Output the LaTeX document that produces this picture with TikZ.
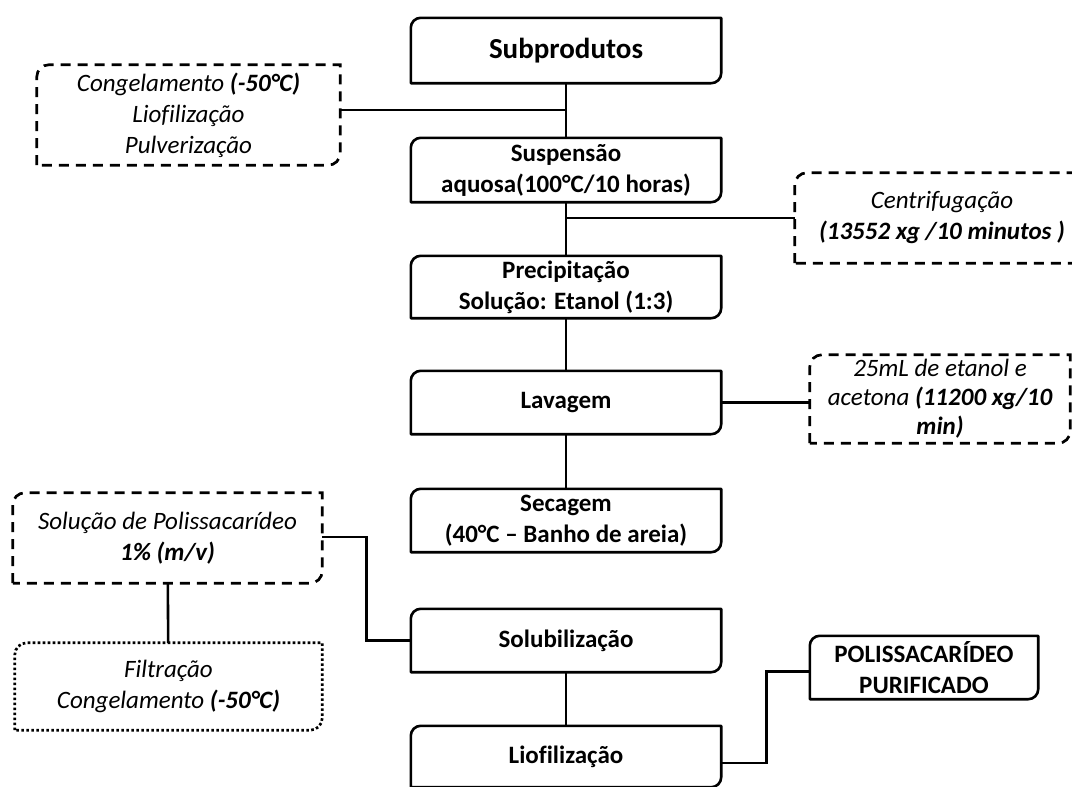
\documentclass[tikz,border=0pt]{standalone}
\usepackage{fontspec}
\setmainfont{Carlito}[Ligatures=NoCommon]
\newcommand\diagoutline[3][10pt]{%
  \draw[#3] (#2.south west) -- ([yshift=-#1]#2.north west)
    arc[start angle=180,end angle=90,radius=#1] -- (#2.north east)
    -- ([yshift=#1]#2.south east)
    arc[start angle=0,end angle=-90,radius=#1] -- cycle;}
\tikzset{
  txt/.style={inner sep=0pt, align=center, font=\fontsize{25}{31}\selectfont},
  mainbox/.style={txt, font=\fontsize{25}{31}\selectfont\bfseries},
  notebox/.style={txt, font=\fontsize{25}{31}\selectfont\itshape},
  solidline/.style={line width=2.6pt, line join=round},
  dashline/.style={line width=2.7pt, dash pattern=on 10pt off 7pt},
  dotline/.style={line width=2.7pt, dash pattern=on 2.6pt off 2.4pt},
  conn/.style={line width=2.6pt}
}
\begin{document}
\begin{tikzpicture}[x=1pt,y=-1pt]
\clip (0,0) rectangle (1072,787);
\fill[white] (0,0) rectangle (1072,787);

% main column
\node[mainbox, minimum width=310pt, minimum height=65pt, font=\fontsize{29}{34}\selectfont\bfseries] (sub) at (566,50.5) {Subprodutos};
\node[mainbox, minimum width=310pt, minimum height=64pt] (susp) at (566,170) {Suspensão\\aquosa(100°C/10 horas)};
\node[mainbox, minimum width=310pt, minimum height=62pt] (prec) at (566,287) {Precipitação\\Solução: Etanol (1:3)};
\node[mainbox, minimum width=310pt, minimum height=63pt] (lav) at (566,402.5) {Lavagem};
\node[mainbox, minimum width=310pt, minimum height=63pt] (sec) at (566,520.5) {Secagem\\(40°C – Banho de areia)};
\node[mainbox, minimum width=310pt, minimum height=63pt] (solu) at (566,640.5) {Solubilização};
\node[mainbox, minimum width=310pt, minimum height=61pt] (liof) at (566,756.5) {Liofilização};
\node[mainbox, minimum width=228pt, minimum height=63pt] (pol) at (924,667.5) {POLISSACARÍDEO\\PURIFICADO};

% side notes
\node[notebox, minimum width=303pt, minimum height=100pt] (cong) at (188.5,115) {Congelamento \textbf{(-50°C)}\\Liofilização\\Pulverização};
\node[notebox, minimum width=294pt, minimum height=90pt] (centr) at (942,218) {Centrifugação\\\textbf{(13552 xg /10 minutos )}};
\node[notebox, minimum width=260pt, minimum height=88pt, font=\fontsize{25}{29}\selectfont\itshape] (etan) at (940,399) {25mL de etanol e\\acetona \textbf{(11200 xg/10}\\\textbf{min)}};
\node[notebox, minimum width=309pt, minimum height=90pt] (sol) at (167.5,538) {Solução de Polissacarídeo\\\textbf{1\% (m/v)}};
\node[notebox, minimum width=307pt, minimum height=87pt] (filt) at (168.5,686.5) {Filtração\\Congelamento \textbf{(-50°C)}};

% outlines
\foreach \n in {sub,susp,prec,lav,sec,solu,liof,pol}{\diagoutline{\n}{solidline}}
\foreach \n in {cong,centr,etan,sol}{\diagoutline[12pt]{\n}{dashline}}
\diagoutline[12pt]{filt}{dotline}

% connectors
\draw[conn] (sub) -- (susp);
\draw[conn] ([yshift=5pt]cong.east) -- ([yshift=5pt]cong.east -| sub.south);
\draw[conn] (susp) -- (prec);
\draw[conn] (centr.west) -- (centr.west -| susp.south);
\draw[conn] (prec) -- (lav);
\draw[conn] (lav.east) -- (lav.east -| etan.west);
\draw[conn] (lav) -- (sec);
\draw[conn] ([yshift=1pt]sol.east) -- ++(44,0) |- (solu.west);
\draw[conn] (sol) -- (filt);
\draw[conn] (solu) -- (liof);
\draw[conn] ([yshift=-6.5pt]liof.east) -- ++(45,0) |- ([yshift=-4pt]pol.west);
\end{tikzpicture}
\end{document}
